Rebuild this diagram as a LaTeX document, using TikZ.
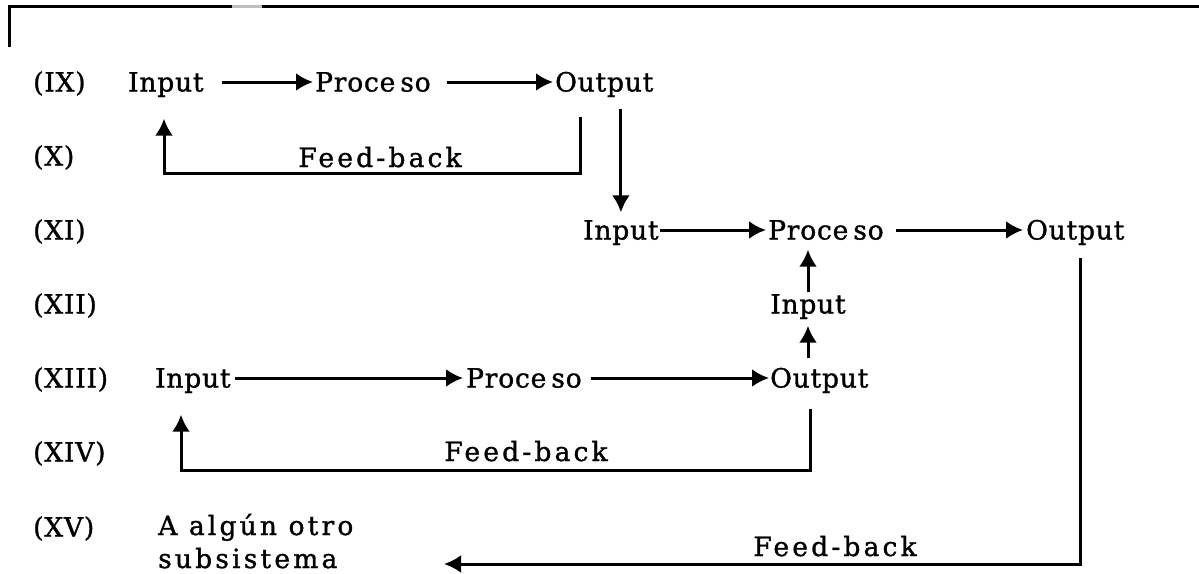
\documentclass[tikz,border=0pt]{standalone}
\usepackage{fontspec}
\setmainfont{DejaVu Serif}
\newfontfamily\spaced[LetterSpace=12,FakeBold=1.2]{DejaVu Serif}
\newfontfamily\wordfont[LetterSpace=3,FakeBold=1.2]{DejaVu Serif}
\usetikzlibrary{arrows.meta}
\newcommand{\proc}{Proce\kern5pt so}
\tikzset{
  lab/.style={inner sep=0pt, anchor=west, text height=19pt, text depth=0pt,
              font=\wordfont\fontsize{26.5}{30}\selectfont},
  fb/.style={inner sep=0pt, anchor=base, font=\spaced\fontsize{26.5}{30}\selectfont},
  sub/.style={inner sep=0pt, anchor=base west, font=\spaced\fontsize{26.5}{30}\selectfont},
  ln/.style={line width=3pt},
  arr/.style={line width=3pt, -{Latex[length=17pt,width=18pt]}},
}
\begin{document}
\begin{tikzpicture}[x=1pt,y=-1pt]
\useasboundingbox (0,0) rectangle (1199,573);

% frame corner at the top
\draw[ln] (9,47) -- (9,6) -- (232,6);
\draw[ln, black!25] (232,6) -- (262,6);
\draw[ln] (262,6) -- (1199,6);

% row numbers
\node[lab] (r9)  at (33,82)  {(IX)};
\node[lab] (r10) at (33,156) {(X)};
\node[lab] (r11) at (33,230) {(XI)};
\node[lab] (r12) at (33,304) {(XII)};
\node[lab] (r13) at (33,378) {(XIII)};
\node[lab] (r14) at (33,452) {(XIV)};
\node[lab] (r15) at (33,527) {(XV)};

% first system
\node[lab] (in1)  at (128,82) {Input};
\node[lab] (pr1)  at (315,82) {\proc};
\node[lab] (out1) at (555,82) {Output};
\draw[arr] ([xshift=18pt]in1.east) -- ([xshift=-2pt]pr1.west);
\draw[arr] ([xshift=16pt]pr1.east) -- ([xshift=-2pt]out1.west);

\node[fb] (fb1) at (380,167) {Feed-back};
\coordinate (fb1r) at (580,173);
\coordinate (fb1l) at (164,173);
\draw[arr] ([yshift=-25pt]out1.south -| fb1r) -- (fb1r) -- (fb1l)
           -- ([yshift=-27pt]in1.south -| fb1l);

% second system
\node[lab] (in2)  at (583,230)  {Input};
\node[lab] (pr2)  at (768,230)  {\proc};
\node[lab] (out2) at (1026,230) {Output};
\draw[arr] ([yshift=-17pt]out1.south -| in2.north) -- ([yshift=8pt]in2.north);
\draw[arr] ([xshift=1pt]in2.east) -- ([xshift=-2pt]pr2.west);
\draw[arr] ([xshift=12pt]pr2.east) -- ([xshift=-3pt]out2.west);

% input coming from the third system
\node[lab, anchor=center] (in3) at (808,304) {Input};
\draw[arr] ([yshift=2pt]in3.north) -- ([yshift=-10pt]pr2.south -| in3.north);

% third system
\node[lab] (in4)  at (155,378) {Input};
\node[lab] (pr3)  at (466,378) {\proc};
\node[lab] (out3) at (770,378) {Output};
\draw[arr] ([xshift=4pt]in4.east) -- ([xshift=-3pt]pr3.west);
\draw[arr] ([xshift=9pt]pr3.east) -- ([xshift=-1pt]out3.west);
\draw[arr] ([yshift=10pt]out3.north -| in3.south) -- ([yshift=-12pt]in3.south);

\node[fb] (fb2) at (526,461) {Feed-back};
\coordinate (fb2r) at (810,470);
\coordinate (fb2l) at (181,470);
\draw[arr] ([yshift=-21pt]out3.south -| fb2r) -- (fb2r) -- (fb2l)
           -- ([yshift=-27pt]in4.south -| fb2l);

% feed-back towards another subsystem
\node[sub] (oth1) at (158,535) {A algún otro};
\node[sub] (oth2) at (158,568) {subsistema};
\node[fb] (fb3) at (835,556) {Feed-back};
\coordinate (fb3r) at (1080,564);
\coordinate (fb3l) at (444,564);
\draw[arr] ([yshift=-18pt]out2.south -| fb3r) -- (fb3r) -- (fb3l);
\end{tikzpicture}
\end{document}
